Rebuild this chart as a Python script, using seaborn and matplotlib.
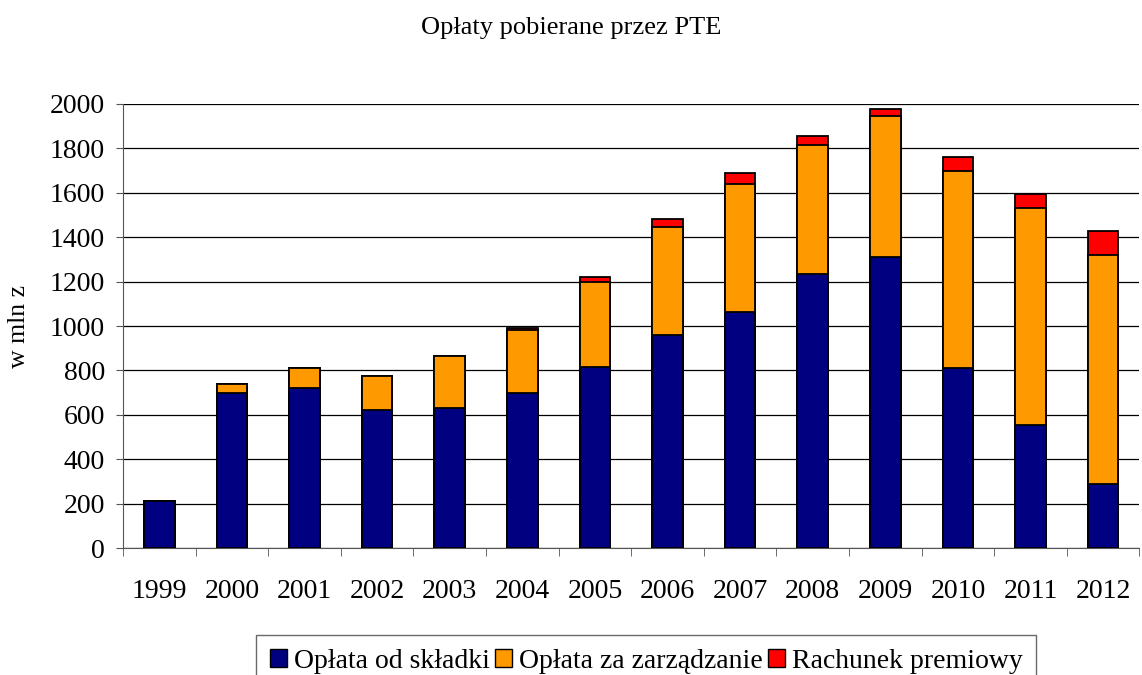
import numpy as np
import pandas as pd
import seaborn as sb
import matplotlib.pyplot as plt
from matplotlib.patches import Patch

years = ['1999', '2000', '2001', '2002', '2003', '2004', '2005',
         '2006', '2007', '2008', '2009', '2010', '2011', '2012']
# values in mln zl
oplata_skladka = [210, 700, 723, 622, 632, 700, 817, 960, 1062, 1233, 1310, 809, 555, 290]
oplata_zarzadzanie = [0, 38, 86, 154, 233, 283, 382, 486, 577, 582, 634, 887, 976, 1032]
rachunek_premiowy = [0, 0, 0, 0, 0, 8, 23, 36, 48, 39, 32, 65, 62, 106]

series_names = ['Opłata od składki', 'Opłata za zarządzanie', 'Rachunek premiowy']
colors = ['#000080', '#FF9900', '#FF0000']

df = pd.DataFrame({'year': years,
                   'blue': oplata_skladka,
                   'orange': oplata_zarzadzanie,
                   'red': rachunek_premiowy})
df['cum2'] = df['blue'] + df['orange']
df['cum3'] = df['cum2'] + df['red']

plt.rcParams['font.family'] = ['Liberation Serif', 'DejaVu Serif']

fig = plt.figure(figsize=(11.42, 6.75), dpi=100)
ax = fig.add_axes([0.1077, 0.188, 0.89, 0.658])

# stacked bars: draw totals first, then the lower parts on top
for col, c in zip(['cum3', 'cum2', 'blue'], colors[::-1]):
    sb.barplot(data=df, x='year', y=col, color=c, width=0.42,
               edgecolor='black', linewidth=1.3, saturation=1, ax=ax, zorder=3)

ax.set_xlim(-0.5, 13.5)
ax.set_ylim(0, 2000)
ax.set_yticks(range(0, 2001, 200))
ax.yaxis.grid(True, color='black', linewidth=0.9, zorder=0)
ax.set_axisbelow(True)
for s in ['top', 'right']:
    ax.spines[s].set_visible(False)
ax.spines['left'].set_color('#555555')
ax.spines['bottom'].set_color('#555555')

ax.set_xticks(np.arange(-0.5, 14, 1), minor=True)
ax.tick_params(axis='x', which='major', length=0, pad=22, labelsize=20)
ax.tick_params(axis='x', which='minor', length=6, color='#555555')
ax.tick_params(axis='y', length=5, pad=8, labelsize=20, color='#555555')
ax.set_xlabel('')
ax.set_ylabel('w mln z', fontsize=18.5, labelpad=14)

fig.text(0.5, 1 - 28 / 675, 'Opłaty pobierane przez PTE', ha='center', va='center', fontsize=19)

handles = [Patch(facecolor=c, edgecolor='black', linewidth=1) for c in colors]
leg = fig.legend(handles, series_names, loc='lower center', bbox_to_anchor=(0.566, -0.019),
                 ncol=3, fontsize=20, frameon=True, fancybox=False, handlelength=0.6,
                 handleheight=0.6, handletextpad=0.25, columnspacing=0.2, borderpad=0.5,
                 borderaxespad=0)
leg.get_frame().set_edgecolor('#444444')
leg.get_frame().set_linewidth(1)

fig.savefig('out.png', dpi=100)
